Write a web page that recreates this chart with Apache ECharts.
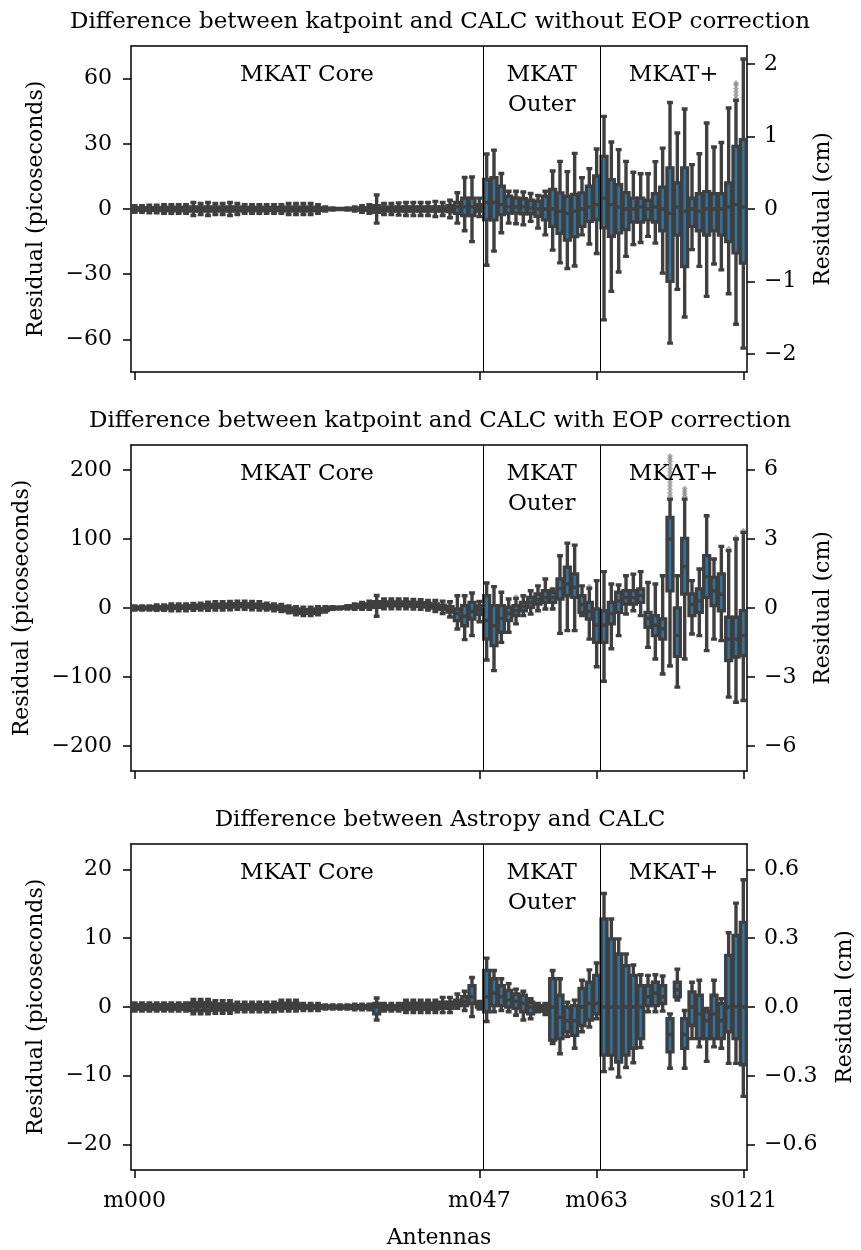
<!DOCTYPE html>
<html><head><meta charset="utf-8">
<script src="https://cdn.jsdelivr.net/npm/echarts@6/dist/echarts.min.js"></script>
<style>html,body{margin:0;padding:0;background:#fff}#c{width:861px;height:1250px}</style>
</head><body><div id="c"></div>
<script>
// ---------- categories ----------
const antennas = [
 'm000','m001','m002','m003','m004','m005','m006','m007','m008','m009',
 'm010','m011','m012','m013','m014','m015','m016','m017','m018','m019',
 'm020','m021','m022','m023','m024','m025','m026','m027','m028','m029',
 'm030','m031','m032','m033','m034','m035','m036','m037','m038','m039',
 'm040','m041','m042','m043','m044','m045','m046','m047','m048','m049',
 'm050','m051','m052','m053','m054','m055','m056','m057','m058','m059',
 'm060','m061','m062','m063',
 's0000','s0001','s0002','s0003','s0004','s0005','s0006','s0007','s0008','s0009',
 's0010','s0011','s0012','s0013','s0014','s0015','s0016','s0017','s0018','s0121'];
const tickAntennas = ['m000','m047','m063','s0121'];
const groupNames = ['MKAT Core','MKAT\nOuter','MKAT+'];
const groupSizes = [48,16,20];
const titles = [
 'Difference between katpoint and CALC without EOP correction',
 'Difference between katpoint and CALC with EOP correction',
 'Difference between Astropy and CALC'];
const leftName = 'Residual (picoseconds)';
const rightName = 'Residual (cm)';
const xName = 'Antennas';

// ---------- axis ranges / ticks (picoseconds, cm) ----------
const yLimits = [75, 236, 23.7];
const leftTicks = [[-60,-30,0,30,60],[-200,-100,0,100,200],[-20,-10,0,10,20]];
const rightTicks = [[-2,-1,0,1,2],[-6,-3,0,3,6],[-0.6,-0.3,0,0.3,0.6]];
const rightDecimals = [0,0,1];
const psToCm = 0.0299792458;

// ---------- panel 1 : katpoint vs CALC without EOP (ps) ----------
const p1Max = [1.5,1.5,1.8,1.8,2,2,2,2,3,2.5, 3,2.5,2.5,3,2.5,2,2,2,2,2, 2,2.5,2.5,2.5,2.5,2,1,0.5,0.3,0.5, 1,1.5,2,6.5,2.5,2.5,2.8,3,3,3, 3,3.5,3,4,7.5,14.5,14.7,5,
 25.3,27.1,16.3,8.2,8.2,7.8,7.1,6.2,8.2,17.5,21.9,17.2,25.6,14.4,18.6,27.6,
 42.6,30.8,27.3,21.9,16.9,16.2,16.2,21.8,28,49,35,46,20.4,25.4,39.6,28.5,30.6,46.5,50,69];
const p1Q3 = [0.5,0.5,0.6,0.6,0.7,0.7,0.7,0.7,1,0.8, 1,0.8,0.8,1,0.8,0.7,0.7,0.7,0.7,0.6, 0.7,0.8,0.8,0.8,0.8,0.6,0.3,0.2,0.1,0.2, 0.3,0.5,0.6,1.5,0.8,0.8,0.9,1,1,1, 1,1,1,1.5,3,5,5,2,
 13.6,14.4,10.5,5.9,5.1,4.7,4,3.6,5.9,9,7.4,5.9,6.7,7.4,10.5,15.2,
 24.2,13.5,11.2,7.5,5,5,4,7,10,18.9,12,18.9,5,7,8,7,7,12,28.8,31.9];
const p1Med = [0,0,0,0,0,0,0,0,0,0, 0,0,0,0,0,0,0,0,0,0, 0,0,0,0,0,0,0,0,0,0, 0,0,0,0,0,0,0,0,0,0, 0,0,0,0,1,1,1,0.5,
 3,3,2,1,1,1,0.5,0,0,0,-1,-2,-1,0,1,2,
 5,2,1,0,0,1,0,1,0,-2,1,-1,0,-1,0,0,0,1,2,1];
const p1Q1 = [-0.5,-0.5,-0.6,-0.6,-0.7,-0.7,-0.7,-0.7,-1,-0.8, -1,-0.8,-0.8,-1,-0.8,-0.7,-0.7,-0.7,-0.7,-0.6, -0.7,-0.8,-0.8,-0.8,-0.8,-0.6,-0.3,-0.2,-0.1,-0.2, -0.3,-0.5,-0.6,-1.5,-0.8,-0.8,-0.9,-1,-1,-1, -1,-1,-1,-1.2,-2,-3,-3,-1,
 -5,-5,-2.6,-1.9,-1.9,-2.2,-2.2,-3.4,-5,-8,-11.2,-14.3,-12.7,-8,-5.7,-5,
 -8.7,-12.6,-11,-9.5,-6,-6,-5,-6,-10,-33.3,-12,-26.5,-8,-10,-12,-10,-12,-15,-20.2,-24.9];
const p1Min = [-1.5,-1.5,-1.8,-1.8,-2,-2,-2,-2,-3,-2.5, -3,-2.5,-2.5,-3,-2.5,-2,-2,-2,-2,-2, -2,-2.5,-2.5,-2.5,-2.5,-2,-1,-0.5,-0.3,-0.5, -1,-1.5,-2,-6.5,-2.5,-2.5,-2.8,-3,-3,-3, -3,-3.5,-3,-4,-6.5,-10,-15,-3.5,
 -25.9,-19.4,-10.9,-6.5,-6.8,-7.3,-5.7,-8.8,-11.9,-18.9,-24.8,-27.4,-26.2,-11.9,-16.1,-20.5,
 -51,-37.9,-29,-21.8,-16.4,-15.4,-12.6,-15.7,-29.5,-61.7,-37,-49.7,-18.7,-26.4,-40.2,-25.3,-28,-39,-53,-64];
const p1Fliers = [['s0018',51],['s0018',52.5],['s0018',54],['s0018',55.5],['s0018',57],['s0018',58]];

// ---------- panel 2 : katpoint vs CALC with EOP (ps) ----------
const p2Max = [3,3,3,4.5,4.5,6,6,6,6.5,7, 8.5,9,9,9.5,10,10,9.5,9,7,6, 5,3,2,1,1,2,2,2,1.5,3.5, 6,8,10,18,13,13,13,13,12.5,12, 11,11,10,9,17.8,17.8,21.7,9.6,
 36.2,30.9,22.7,13,14,17.8,25,32,42,27.5,75.7,94,91,32,28.5,39.6,
 52.6,34.7,33.3,46.8,49,52.6,37,34.7,46.8,157.7,46.8,157.7,39.6,56.4,133.6,70.9,89.2,83,99.9,109.5];
const p2Q3 = [1,1,1,2,2,2.5,2.5,2.5,3.5,4, 4.5,5,5,5.5,6,6,5.5,5,4,3, 2,0,-1.5,-2.5,-2.5,-1.5,-0.5,1,0.5,2, 3.5,5,6,9,8.5,8.5,8.5,8.5,8,7.5, 6.5,6,4,2,-1.4,3.4,8.2,3,
 17.8,3.4,3.4,1,3.4,8.2,15.4,20.3,25,22.7,42,58.9,49.2,17.8,8.2,-1.4,
 -3.9,8.2,22.7,25,25,27.5,-6.3,-11,-16,131,0,100.8,20.3,27.5,75.7,44.4,49.2,-13.5,-13.5,-3.9];
const p2Med = [0,0,0,0.5,0.5,1,1,1,1.5,2, 2.5,3,3,3.5,4,4,3.5,3,2,1, 0,-2,-4,-5,-5,-4,-2,0,0,1, 2,3,4,5,6,6,6,6,5.5,5, 4,3,1,-2,-8,-12,-5,-3,
 -18,-25.6,-15,-8,-4,2,8,12,15,15,28,35,30,5,-5,-25,
 -25,-8,10,15,15,18,-15,-25,-30,100,-40,60,5,10,45,25,20,-45,-45,-40];
const p2Q1 = [-1,-1,-1,-1,-1,-0.5,-0.5,-0.5,-0.5,0, 0.5,1,1,1.5,2,2,1.5,1,0,-1, -2,-4,-6.5,-7.5,-7.5,-6.5,-3.5,-1,-0.5,0, 0.5,1,2,1,3.5,3.5,3.5,3.5,3,2.5, 1.5,0,-2,-6,-18.3,-25.6,-15.9,-9,
 -44.9,-54.5,-35.2,-18.3,-11,-3.9,1,5.8,8.2,8.2,13,17.8,15.4,-6.3,-16,-49.7,
 -49.7,-23,-6.3,5.8,5.8,8.2,-28,-40,-45,25,-70,20.3,-11,-6.3,15.4,3.4,-3.9,-76,-71,-69];
const p2Min = [-3,-3,-3,-3.5,-3.5,-4,-4,-4,-3.5,-3, -3.5,-3,-3,-2.5,-2,-2,-2.5,-3,-3,-4, -5,-7,-10,-11,-11,-10,-6,-2,-1.5,-1.5, -2,-2,-2,-12,-1,-1,-1,-1,-1.5,-2, -3,-5,-8,-13,-30.4,-45.8,-40,-19.8,
 -75.3,-90.7,-49.7,-35.2,-23,-11,-8.7,-3.9,-1.4,-1.4,-36.7,-32.8,-32.8,-11,-45,-85,
 -106,-59,-40,-8.7,-3.9,-11,-57,-73.8,-95.5,-84,-114.6,-73.8,-37.6,-40,-61.7,-45,-47.3,-129,-136.5,-134];
const p2Fliers = [['s0009',162],['s0009',167],['s0009',172],['s0009',177],['s0009',182],['s0009',187],['s0009',192],
 ['s0009',197],['s0009',202],['s0009',207],['s0009',212],['s0009',216],['s0009',220],
 ['s0011',161],['s0011',165],['s0011',169],['s0011',173],
 ['s0017',86],['s0018',102],['s0121',112],['m062',31],['m052',16]];

// ---------- panel 3 : Astropy vs CALC (ps) ----------
const p3Max = [0.6,0.6,0.6,0.6,0.6,0.6,0.6,0.6,1.1,1.1, 1.1,0.9,0.9,0.9,0.7,0.7,0.7,0.7,0.7,0.7, 1,1,1,0.5,0.5,0.5,0.3,0.3,0.3,0.3, 0.4,0.4,0.4,1.3,0.5,0.5,0.5,1,1,1, 1,1,1.4,1.4,1.9,2.3,4.3,0.8,
 7.1,5.3,4.1,3.4,2.6,2.3,1.2,0.5,0.5,5.3,4.1,0.7,1,3.9,5.4,6.4,
 16.5,12.8,9.9,7.7,6.1,4.7,4.6,4.7,4.5,-1.0,5.5,-0.5,3.6,3.9,-0.2,3.9,1.2,10.8,15.1,18.5];
const p3Q3 = [0.3,0.3,0.3,0.3,0.3,0.3,0.3,0.3,0.6,0.6, 0.6,0.4,0.4,0.4,0.3,0.3,0.3,0.3,0.3,0.3, 0.5,0.5,0.5,0.2,0.2,0.2,0.1,0.1,0.1,0.1, 0.2,0.2,0.2,0.5,0.2,0.2,0.2,0.5,0.5,0.5, 0.5,0.5,0.7,0.7,1,1.5,3.1,0.5,
 5.3,4.1,3.1,2.4,1.9,1.7,0.7,0.2,0.2,4.1,1.7,0,0.2,2.7,3.6,4.6,
 12.8,9.9,7.7,6,4.6,3.1,3.1,3.6,3.1,-1.7,3.6,-1.7,2.2,1.7,-0.7,1.7,0.5,7.5,10.4,12.3];
const p3Med = [0,0,0,0,0,0,0,0,0.1,0.1, 0.1,0,0,0,0,0,0,0,0,0, 0.1,0.1,0.1,0,0,0,0,0,0,0, 0,0,0,0,0,0,0,0.1,0.1,0.1, 0.1,0.1,0.2,0.2,0.5,0.8,1.5,0.3,
 1.5,2,1.5,1,0.8,0.5,0,0,-0.2,0,-1.5,-2,-2,0,0.5,0.5,
 0,0,0,0,0,0,1.5,2,1.5,-4,2.5,-4,0,-1,-2,-1,-2,0,0,0];
const p3Q1 = [-0.3,-0.3,-0.3,-0.3,-0.3,-0.3,-0.3,-0.3,-0.5,-0.5, -0.5,-0.4,-0.4,-0.4,-0.3,-0.3,-0.3,-0.3,-0.3,-0.3, -0.2,-0.2,-0.2,-0.2,-0.2,-0.2,-0.1,-0.1,-0.1,-0.1, -0.2,-0.2,-0.2,-1,-0.3,-0.3,-0.3,-0.3,-0.3,-0.3, -0.3,-0.3,-0.2,-0.2,0.2,0.2,0.5,0,
 -0.7,0.2,0.2,0,-0.2,-0.7,-1,-0.5,-0.6,-4.8,-4.6,-3.6,-4.1,-2.7,-1.9,-1,
 -7,-7,-8,-7,-6,-4.6,0.2,0.2,0.5,-6.5,1.5,-6,-2.7,-4.6,-4.6,-4.6,-4.6,-3.6,-4.6,-8.4];
const p3Min = [-0.6,-0.6,-0.6,-0.6,-0.6,-0.6,-0.6,-0.6,-1,-1, -1,-0.9,-0.9,-0.9,-0.7,-0.7,-0.7,-0.7,-0.7,-0.7, -0.6,-0.6,-0.6,-0.5,-0.5,-0.5,-0.3,-0.3,-0.3,-0.3, -0.4,-0.4,-0.4,-1.9,-0.6,-0.6,-0.6,-0.8,-0.8,-0.8, -0.8,-0.8,-0.8,-0.8,-0.2,-0.5,-1.4,-0.3,
 -2.1,-0.7,-0.5,-0.7,-1.2,-1.9,-1.7,-0.7,-1.1,-5.3,-6.8,-4.3,-6,-3.6,-2.9,-1.7,
 -9.4,-9,-10.2,-8.8,-8.1,-5.9,-0.7,-0.7,-0.6,-8.9,1.0,-8.9,-4.6,-5.8,-7.9,-5.8,-6,-8.2,-8.2,-13];
const p3Fliers = [];

const panels = [
 {min:p1Min,q1:p1Q1,med:p1Med,q3:p1Q3,max:p1Max,fliers:p1Fliers},
 {min:p2Min,q1:p2Q1,med:p2Med,q3:p2Q3,max:p2Max,fliers:p2Fliers},
 {min:p3Min,q1:p3Q1,med:p3Med,q3:p3Q3,max:p3Max,fliers:p3Fliers}];

// ---------- layout / style ----------
const FONT = 'DejaVu Serif';
const FS = 22, FS_T = 23;
const gridTop = [46, 445, 844];
const gridH = 326, gridL = 131, gridW = 616;
const leftNameGap = [84, 98, 84];
const rightNameGap = [65, 65, 87];
const BOX_FILL = '#3274a1', EDGE = '#3f3f3f';

const minus = (s) => s.replace('-', '\u2212');
const tickIdx = tickAntennas.map(a => antennas.indexOf(a));

// group boundaries in category units
const bounds = [];
const centers = [];
let acc = 0;
groupSizes.forEach((n, g) => {
  centers.push(acc - 0.5 + n / 2);
  acc += n;
  if (g < groupSizes.length - 1) bounds.push(acc - 0.5);
});

const grid = [], xAxis = [], yAxis = [], series = [], title = [];
for (let k = 0; k < 3; k++) {
  const P = panels[k];
  const lim = yLimits[k];
  grid.push({left: gridL, top: gridTop[k], width: gridW, height: gridH, containLabel: false, outerBoundsMode: 'none'});
  title.push({text: titles[k], left: gridL + gridW / 2 - 4, textAlign: 'center', top: gridTop[k] - 40,
    textStyle: {fontFamily: FONT, fontSize: FS_T, fontWeight: 'normal', color: '#000'}});
  const isLast = k === 2;
  xAxis.push({
    type: 'category', gridIndex: k, data: antennas, boundaryGap: true, position: 'bottom',
    axisLine: {show: true, onZero: false, lineStyle: {color: '#000', width: 1.5}},
    axisTick: {show: true, alignWithLabel: true, length: 8, interval: (i) => tickIdx.includes(i), lineStyle: {color: '#000', width: 1.5}},
    axisLabel: {show: isLast, interval: (i) => tickIdx.includes(i), fontFamily: FONT, fontSize: FS, color: '#000', margin: 20},
    splitLine: {show: false},
    name: isLast ? xName : '', nameLocation: 'middle', nameGap: 57,
    nameTextStyle: {fontFamily: FONT, fontSize: FS, color: '#000'}
  });
  xAxis.push({
    type: 'value', gridIndex: k, min: -0.5, max: antennas.length - 0.5, position: 'top',
    axisLine: {show: true, onZero: false, lineStyle: {color: '#000', width: 1.5}},
    axisTick: {show: false}, axisLabel: {show: false}, splitLine: {show: false}
  });
  yAxis.push({
    type: 'value', gridIndex: k, min: -lim, max: lim, position: 'left',
    axisLine: {show: true, onZero: false, lineStyle: {color: '#000', width: 1.5}},
    axisTick: {show: true, length: 8, customValues: leftTicks[k], lineStyle: {color: '#000', width: 1.5}},
    axisLabel: {show: true, customValues: leftTicks[k], formatter: (v) => minus(String(v)), fontFamily: FONT, fontSize: FS, color: '#000', margin: 19},
    splitLine: {show: false},
    name: leftName, nameLocation: 'middle', nameGap: leftNameGap[k], nameRotate: 90,
    nameTextStyle: {fontFamily: FONT, fontSize: FS, color: '#000'}
  });
  yAxis.push({
    type: 'value', gridIndex: k, min: -lim * psToCm, max: lim * psToCm, position: 'right',
    axisLine: {show: true, onZero: false, lineStyle: {color: '#000', width: 1.5}},
    axisTick: {show: true, length: 8, customValues: rightTicks[k], lineStyle: {color: '#000', width: 1.5}},
    axisLabel: {show: true, customValues: rightTicks[k], formatter: (v) => minus(Number(v).toFixed(rightDecimals[k])), fontFamily: FONT, fontSize: FS, color: '#000', margin: 17},
    splitLine: {show: false},
    name: rightName, nameLocation: 'middle', nameGap: rightNameGap[k], nameRotate: 90,
    nameTextStyle: {fontFamily: FONT, fontSize: FS, color: '#000'}
  });
  const boxData = antennas.map((a, i) => [P.min[i], P.q1[i], P.med[i], P.q3[i], P.max[i]]);
  series.push({
    type: 'boxplot', xAxisIndex: 2 * k, yAxisIndex: 2 * k, data: boxData,
    boxWidth: ['80%', '80%'], silent: true,
    itemStyle: {color: BOX_FILL, borderColor: EDGE, borderWidth: 3.4},
    emphasis: {disabled: true}, z: 3
  });
  if (P.fliers.length) {
    series.push({
      type: 'scatter', xAxisIndex: 2 * k, yAxisIndex: 2 * k, data: P.fliers,
      symbol: 'diamond', symbolSize: 6, silent: true,
      itemStyle: {color: 'rgba(120,120,120,0.75)'}, z: 2
    });
  }
  series.push({
    type: 'scatter', xAxisIndex: 2 * k + 1, yAxisIndex: 2 * k, symbol: 'circle', symbolSize: 1, silent: true,
    itemStyle: {color: 'rgba(0,0,0,0)'},
    data: groupNames.map((n, g) => ({name: n, value: [centers[g], lim * 0.92]})),
    label: {show: true, position: 'bottom', distance: 0, formatter: '{b}', fontFamily: FONT, fontSize: FS_T, lineHeight: 30, color: '#000', opacity: 1, align: 'center'},
    emphasis: {disabled: true},
    markLine: {silent: true, symbol: ['none', 'none'], label: {show: false},
      lineStyle: {color: '#000', width: 1, type: 'solid', opacity: 1},
      emphasis: {disabled: true},
      data: bounds.map(b => ({xAxis: b}))},
    z: 4
  });
}

const chart = echarts.init(document.getElementById('c'));
chart.setOption({animation: false, backgroundColor: '#fff', title, grid, xAxis, yAxis, series});
</script></body></html>
